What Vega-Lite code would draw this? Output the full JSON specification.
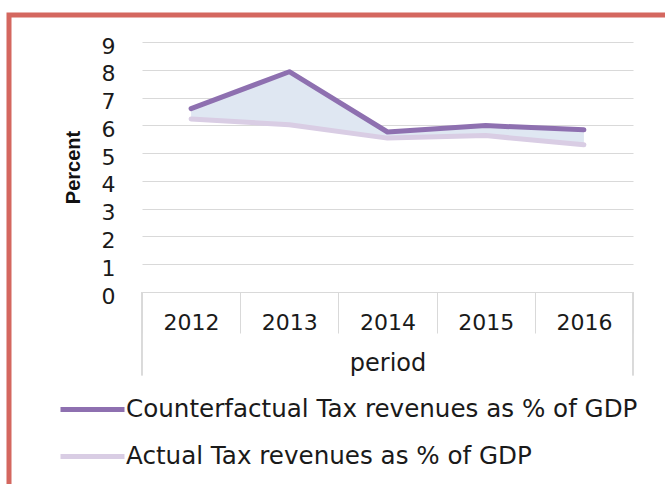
{
  "$schema": "https://vega.github.io/schema/vega-lite/v6.json",
  "width": 660,
  "height": 474,
  "autosize": {"type": "none"},
  "padding": {"left": 9, "top": 15, "right": 0, "bottom": 0},
  "background": "white",
  "config": {
    "view": {"stroke": "#d4675f", "strokeWidth": 5},
    "font": "DejaVu Sans"
  },
  "data": {
    "values": [
      {"period": "2012", "Counterfactual Tax revenues as % of GDP": 6.6, "Actual Tax revenues as % of GDP": 6.23},
      {"period": "2013", "Counterfactual Tax revenues as % of GDP": 7.93, "Actual Tax revenues as % of GDP": 6.02},
      {"period": "2014", "Counterfactual Tax revenues as % of GDP": 5.76, "Actual Tax revenues as % of GDP": 5.54},
      {"period": "2015", "Counterfactual Tax revenues as % of GDP": 5.99, "Actual Tax revenues as % of GDP": 5.63},
      {"period": "2016", "Counterfactual Tax revenues as % of GDP": 5.84, "Actual Tax revenues as % of GDP": 5.3}
    ]
  },
  "layer": [
    {
      "mark": {"type": "area", "color": "#dfe7f2", "opacity": 1},
      "encoding": {
        "x": {
          "field": "period", "type": "ordinal", "title": "period",
          "scale": {"range": [133, 624], "paddingInner": 0, "paddingOuter": 0},
          "axis": {
            "orient": "bottom", "offset": -197, "labelAngle": 0, "tickBand": "extent",
            "ticks": true, "tickSize": 41, "tickColor": "#d9d9d9", "tickWidth": 1,
            "domainColor": "#d9d9d9", "domainWidth": 1,
            "labelFontSize": 22, "labelColor": "#1a1a1a", "labelPadding": -11, "labelBaseline": "middle",
            "titleFontSize": 24, "titleFontWeight": "normal", "titleColor": "#1a1a1a",
            "titleY": 71, "titleBaseline": "middle", "grid": false
          }
        },
        "y": {
          "field": "Counterfactual Tax revenues as % of GDP", "type": "quantitative", "title": "Percent",
          "scale": {"domain": [0, 9], "range": [277, 27], "nice": false, "zero": false},
          "axis": {
            "orient": "left", "offset": -133, "domain": false, "ticks": false,
            "values": [0, 1, 2, 3, 4, 5, 6, 7, 8, 9],
            "labelPadding": 27, "labelFontSize": 22, "labelColor": "#1a1a1a", "labelOffset": 4,
            "grid": true, "gridColor": "#d9d9d9", "gridWidth": 1,
            "titleFont": "Liberation Sans",
            "titleFontSize": 20, "titleFontWeight": "bold", "titleColor": "#111",
            "titleX": -69, "titleY": 152, "titleAngle": -90, "titleAlign": "center", "titleBaseline": "middle"
          }
        },
        "y2": {"field": "Actual Tax revenues as % of GDP"}
      }
    },
    {
      "transform": [
        {"fold": ["Counterfactual Tax revenues as % of GDP", "Actual Tax revenues as % of GDP"], "as": ["series", "value"]}
      ],
      "mark": {"type": "line", "strokeWidth": 5, "strokeCap": "round", "strokeJoin": "round"},
      "encoding": {
        "x": {"field": "period", "type": "ordinal", "title": "period"},
        "y": {"field": "value", "type": "quantitative", "title": "Percent"},
        "color": {
          "field": "series", "type": "nominal",
          "scale": {
            "domain": ["Counterfactual Tax revenues as % of GDP", "Actual Tax revenues as % of GDP"],
            "range": ["#8e70b0", "#d9cde4"]
          },
          "legend": {
            "orient": "none", "legendX": 49, "legendY": 360, "title": null,
            "symbolType": "stroke", "symbolSize": 4096, "symbolStrokeWidth": 5,
            "labelFontSize": 24.6, "labelColor": "#1a1a1a", "labelOffset": -1, "labelLimit": 1000,
            "rowPadding": -27, "padding": 0
          }
        }
      }
    },
    {
      "mark": {"type": "rule", "color": "#d9d9d9", "strokeWidth": 1},
      "encoding": {
        "x": {"datum": "2012", "bandPosition": 0},
        "y": {"datum": 0},
        "y2": {"datum": -3}
      }
    },
    {
      "mark": {"type": "rule", "color": "#d9d9d9", "strokeWidth": 1},
      "encoding": {
        "x": {"datum": "2016", "bandPosition": 1},
        "y": {"datum": 0},
        "y2": {"datum": -3}
      }
    }
  ]
}
